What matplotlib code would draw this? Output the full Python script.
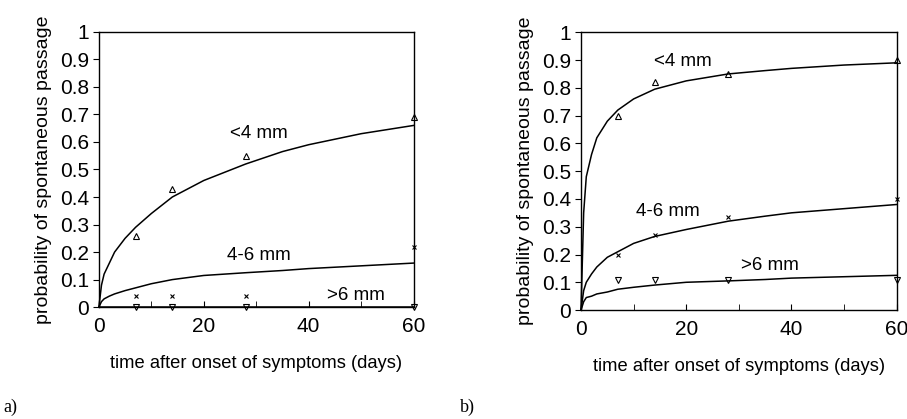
import matplotlib
matplotlib.use("Agg")
import matplotlib.pyplot as plt

plt.rcParams['font.family'] = ['Liberation Sans', 'DejaVu Sans']

# curve sample points
t_curve = [0, 0.5, 1, 2, 3, 5, 7, 10, 14, 20, 28, 35, 40, 50, 60]
a_small = [0, 0.08, 0.12, 0.16, 0.20, 0.25, 0.29, 0.34, 0.40, 0.46, 0.52, 0.565, 0.59, 0.63, 0.66]
a_mid = [0, 0.02, 0.03, 0.04, 0.048, 0.06, 0.07, 0.085, 0.10, 0.115, 0.125, 0.133, 0.14, 0.15, 0.16]
a_large = [0, 0, 0, 0, 0, 0, 0, 0, 0, 0, 0, 0, 0, 0, 0]
b_small = [0, 0.35, 0.48, 0.56, 0.62, 0.68, 0.72, 0.76, 0.795, 0.825, 0.85, 0.862, 0.87, 0.882, 0.89]
b_mid = [0, 0.07, 0.10, 0.13, 0.155, 0.19, 0.21, 0.24, 0.265, 0.29, 0.32, 0.338, 0.35, 0.365, 0.38]
b_large = [0, 0.03, 0.045, 0.05, 0.058, 0.065, 0.075, 0.082, 0.09, 0.10, 0.105, 0.11, 0.115, 0.12, 0.125]

# observed points
t_obs = [7, 14, 28, 60]
a_small_obs = [0.26, 0.43, 0.55, 0.69]
a_mid_obs = [0.04, 0.04, 0.04, 0.22]
a_large_obs = [0, 0, 0, 0]
b_small_obs = [0.70, 0.82, 0.85, 0.90]
b_mid_obs = [0.20, 0.27, 0.335, 0.40]
b_large_obs = [0.11, 0.11, 0.11, 0.11]

panels = [
    dict(rect=[0.109, 0.267, 0.347, 0.657], curves=(a_small, a_mid, a_large),
         obs=(a_small_obs, a_mid_obs, a_large_obs),
         labels=[(25, 0.6), (24.5, 0.155), (43.5, 0.01)], tag="a)", tagx=0.004),
    dict(rect=[0.6406, 0.26, 0.348, 0.663], curves=(b_small, b_mid, b_large),
         obs=(b_small_obs, b_mid_obs, b_large_obs),
         labels=[(13.9, 0.865), (10.4, 0.325), (30.4, 0.13)], tag="b)", tagx=0.507),
]
names = ["<4 mm", "4-6 mm", ">6 mm"]
markers = [dict(marker='^', mfc='none', ms=4), dict(marker='x', ms=3.5),
           dict(marker='v', mfc='none', ms=4)]

fig = plt.figure(figsize=(9.07, 4.19), dpi=100)
for p in panels:
    ax = fig.add_axes(p["rect"])
    for y, yo, m, name, pos in zip(p["curves"], p["obs"], markers, names, p["labels"]):
        ax.plot(t_curve, y, color='black', lw=1.1, clip_on=False)
        ax.plot(t_obs, yo, linestyle='none', color='black', mew=0.8, clip_on=False, **m)
        ax.text(pos[0], pos[1], name, fontsize=13.5, va='bottom', ha='left')
    ax.set_xlim(0, 60)
    ax.set_ylim(0, 1)
    ax.set_xticks([0, 20, 40, 60])
    ax.set_xticks([10, 30, 50], minor=True)
    ax.set_yticks([0, 0.1, 0.2, 0.3, 0.4, 0.5, 0.6, 0.7, 0.8, 0.9, 1])
    ax.set_yticklabels(["0", "0.1", "0.2", "0.3", "0.4", "0.5", "0.6", "0.7", "0.8", "0.9", "1"])
    ax.tick_params(axis='x', which='both', direction='in', length=4, labelsize=15, pad=7)
    ax.tick_params(axis='y', direction='out', length=4, labelsize=15, pad=3)
    for s in ax.spines.values():
        s.set_linewidth(1.0)
    ax.set_xlabel("time after onset of symptoms (days)", fontsize=13.2, labelpad=14)
    ax.set_ylabel("probability of spontaneous passage", fontsize=14, labelpad=6)
    fig.text(p["tagx"], 0.018, p["tag"], fontsize=13, family='Liberation Serif')

fig.savefig("out.png", dpi=100)
